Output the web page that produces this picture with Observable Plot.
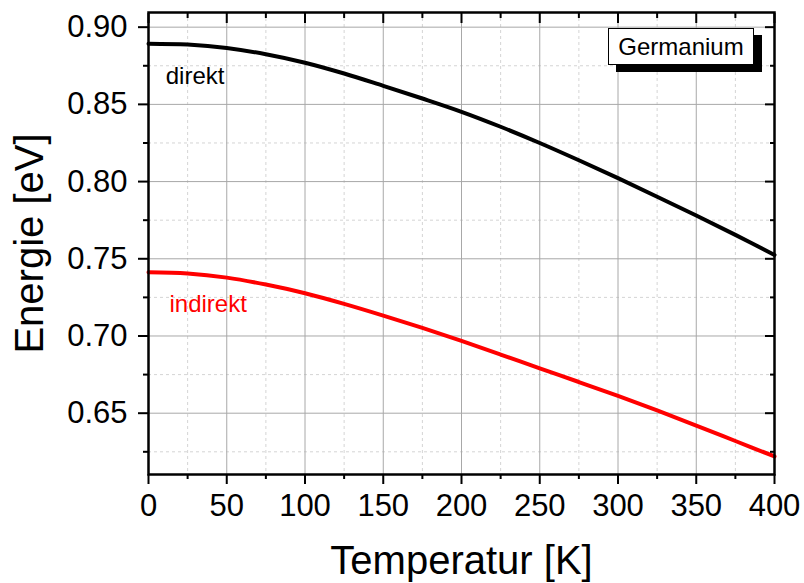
<!DOCTYPE html>
<html>
<head>
<meta charset="utf-8">
<script src="https://cdn.jsdelivr.net/npm/d3@7"></script>
<script src="https://cdn.jsdelivr.net/npm/@observablehq/plot@0.6"></script>
<style>
  html, body { margin: 0; padding: 0; background: #fff; }
  #wrap { position: relative; width: 804px; height: 583px; font-family: "Liberation Sans", Arial, sans-serif; }
  #legend { position: absolute; left: 608px; top: 28px; width: 144px; height: 35px; border: 1px solid #000; background: #fff;
    font-size: 24px; line-height: 35px; text-align: center; box-shadow: 8px 7px 0 #000; }
</style>
</head>
<body>
<div id="wrap"><div id="legend">Germanium</div></div>
<script>
// Temperature [K]
const temperature = [0, 25, 50, 75, 100, 125, 150, 175, 200, 225, 250, 275, 300, 325, 350, 375, 400];
// Direct gap energy [eV]
const direkt = [0.8893, 0.8887, 0.8865, 0.8825, 0.8770, 0.8700, 0.8620, 0.8538, 0.8452, 0.8355, 0.8250, 0.8138, 0.8022, 0.7902, 0.7780, 0.7655, 0.7525];
// Indirect gap energy [eV]
const indirekt = [0.7413, 0.7405, 0.7378, 0.7333, 0.7277, 0.7208, 0.7132, 0.7052, 0.6968, 0.6880, 0.6790, 0.6702, 0.6612, 0.6518, 0.6420, 0.6320, 0.6220];

const xMajor = [0, 50, 100, 150, 200, 250, 300, 350, 400];
const xMinor = [25, 75, 125, 175, 225, 275, 325, 375];
const yMajor = [0.65, 0.70, 0.75, 0.80, 0.85, 0.90];
const yMinor = [0.625, 0.675, 0.725, 0.775, 0.825, 0.875];

const seriesLabels = [
  {text: "direkt", T: 11, E: 0.8629, color: "#000000"},
  {text: "indirekt", T: 13.4, E: 0.7154, color: "#ff0000"}
];

const rowsD = temperature.map((t, i) => ({T: t, E: direkt[i]}));
const rowsI = temperature.map((t, i) => ({T: t, E: indirekt[i]}));

const font = "Liberation Sans, Arial, sans-serif";

const chart = Plot.plot({
  width: 804,
  height: 583,
  marginLeft: 148,
  marginRight: 30,
  marginTop: 12,
  marginBottom: 109,
  style: {fontFamily: font, background: "#fff", color: "#000"},
  x: {domain: [0, 400]},
  y: {domain: [0.6103, 0.9095]},
  marks: [
    Plot.gridX(xMinor, {stroke: "#d4d4d4", strokeOpacity: 1, strokeDasharray: "3,3"}),
    Plot.gridY(yMinor, {stroke: "#d4d4d4", strokeOpacity: 1, strokeDasharray: "3,3"}),
    Plot.gridX(xMajor, {stroke: "#a8a8a8", strokeOpacity: 1}),
    Plot.gridY(yMajor, {stroke: "#a8a8a8", strokeOpacity: 1}),
    Plot.line(rowsD, {x: "T", y: "E", stroke: "#000", strokeWidth: 4, curve: "catmull-rom"}),
    Plot.line(rowsI, {x: "T", y: "E", stroke: "#ff0000", strokeWidth: 4, curve: "catmull-rom"}),
    Plot.text(seriesLabels, {x: "T", y: "E", text: "text", fill: "color", textAnchor: "start", lineAnchor: "bottom", fontSize: 24}),
    // bottom axis
    Plot.axisX(xMajor, {anchor: "bottom", tickSize: 10, tickPadding: 9, fontSize: 31, label: null, strokeWidth: 2}),
    Plot.axisX(xMinor, {anchor: "bottom", tickSize: 5, fill: "none", label: null, strokeWidth: 2}),
    // top axis (inward)
    Plot.axisX(xMajor, {anchor: "top", tickSize: -10, fill: "none", label: null, strokeWidth: 2}),
    Plot.axisX(xMinor, {anchor: "top", tickSize: -5, fill: "none", label: null, strokeWidth: 2}),
    // left axis
    Plot.axisY(yMajor, {anchor: "left", tickSize: 10, tickPadding: 11, fontSize: 31, tickFormat: d3.format(".2f"), label: null, strokeWidth: 2}),
    Plot.axisY(yMinor, {anchor: "left", tickSize: 5, fill: "none", label: null, strokeWidth: 2}),
    // right axis (inward)
    Plot.axisY(yMajor, {anchor: "right", tickSize: -10, fill: "none", label: null, strokeWidth: 2}),
    Plot.axisY(yMinor, {anchor: "right", tickSize: -5, fill: "none", label: null, strokeWidth: 2}),
    Plot.frame({stroke: "#000", strokeWidth: 2.5}),
    // axis titles
    Plot.text(["Temperatur [K]"], {frameAnchor: "bottom", dy: 99, lineAnchor: "bottom", textAnchor: "middle", fontSize: 40, fill: "#000"}),
    Plot.text(["Energie [eV]"], {frameAnchor: "left", dx: -106, rotate: -90, lineAnchor: "bottom", textAnchor: "middle", fontSize: 40, fill: "#000"})
  ]
});
document.getElementById("wrap").prepend(chart);
</script>
</body>
</html>
